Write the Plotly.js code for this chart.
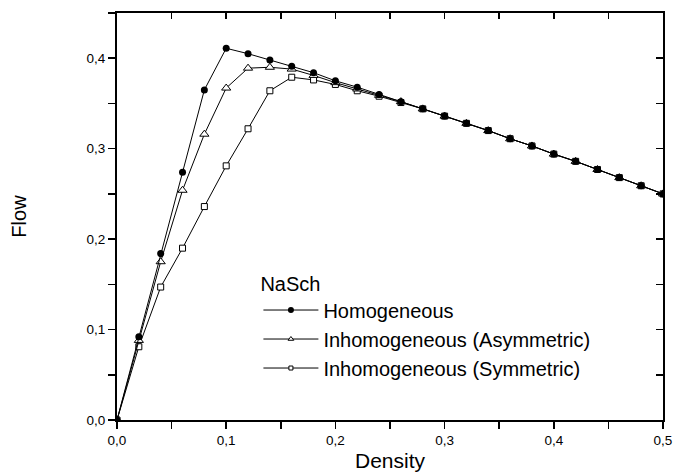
<!DOCTYPE html>
<html>
<head>
<meta charset="utf-8">
<script src="https://cdn.plot.ly/plotly-3.0.1.min.js"></script>
<style>html,body{margin:0;padding:0;background:#fff;}#chart{width:675px;height:474px;}</style>
</head>
<body>
<div id="chart"></div>
<script>
const density = [0,0.02,0.04,0.06,0.08,0.10,0.12,0.14,0.16,0.18,0.20,0.22,0.24,0.26,0.28,0.30,0.32,0.34,0.36,0.38,0.40,0.42,0.44,0.46,0.48,0.50];
const homogeneous = [0,0.092,0.184,0.274,0.365,0.411,0.405,0.398,0.391,0.384,0.375,0.368,0.360,0.352,0.344,0.336,0.328,0.320,0.311,0.303,0.294,0.286,0.277,0.268,0.259,0.250];
const asymmetric = [0,0.088,0.175,0.254,0.316,0.367,0.389,0.390,0.388,0.381,0.373,0.366,0.359,0.352,0.344,0.336,0.328,0.320,0.311,0.303,0.294,0.286,0.277,0.268,0.259,0.250];
const symmetric = [0,0.081,0.147,0.190,0.236,0.281,0.322,0.364,0.379,0.376,0.371,0.364,0.358,0.351,0.344,0.336,0.328,0.320,0.311,0.303,0.294,0.286,0.277,0.268,0.259,0.250];
const seriesNames = ["Homogeneous","Inhomogeneous (Asymmetric)","Inhomogeneous (Symmetric)"];

const FONT = "Liberation Sans, Arial, sans-serif";
const lineStyle = {color:"#000", width:1};

const traces = [
  {x:density, y:symmetric, mode:"lines+markers", showlegend:false, hoverinfo:"skip",
   line:lineStyle, marker:{symbol:"square", size:6, color:"#fff", line:{color:"#000", width:1}}},
  {x:density, y:asymmetric, mode:"lines+markers", showlegend:false, hoverinfo:"skip",
   line:lineStyle, marker:{symbol:"triangle-up", size:8, color:"#fff", line:{color:"#000", width:1}}},
  {x:density, y:homogeneous, mode:"lines+markers", showlegend:false, hoverinfo:"skip",
   line:lineStyle, marker:{symbol:"circle", size:7, color:"#000", line:{color:"#000", width:0}}},
  // legend entries
  {x:[null], y:[null], mode:"lines+markers", name:seriesNames[0],
   line:lineStyle, marker:{symbol:"circle", size:6, color:"#000"}},
  {x:[null], y:[null], mode:"lines+markers", name:seriesNames[1],
   line:lineStyle, marker:{symbol:"triangle-up", size:5, color:"#fff", line:{color:"#000", width:1}}},
  {x:[null], y:[null], mode:"lines+markers", name:seriesNames[2],
   line:lineStyle, marker:{symbol:"square", size:4, color:"#fff", line:{color:"#000", width:1}}},
  // dummy for mirrored axes
  {x:[null], y:[null], xaxis:"x2", yaxis:"y2", mode:"markers", showlegend:false, hoverinfo:"skip"}
];

const layout = {
  width:675, height:474,
  margin:{l:117, r:12, t:13, b:54},
  paper_bgcolor:"#fff", plot_bgcolor:"#fff",
  separators:",.",
  font:{family:FONT, color:"#000", size:13.5},
  showlegend:true,
  legend:{
    x:0.259, y:0.382, xanchor:"left", yanchor:"top",
    bgcolor:"rgba(0,0,0,0)", borderwidth:0,
    itemwidth:55,
    font:{family:FONT, size:20, color:"#000"},
    title:{text:"NaSch", font:{family:FONT, size:20, color:"#000"}, side:"top"},
    tracegroupgap:0
  },
  xaxis:{
    range:[0,0.5], dtick:0.1, tick0:0, tickformat:".1f",
    ticks:"outside", ticklen:7, tickwidth:1.5, tickcolor:"#000",
    minor:{dtick:0.05, ticks:"outside", ticklen:7, tickwidth:1.5, tickcolor:"#000"},
    showline:true, linecolor:"#000", linewidth:2, showgrid:false, zeroline:false,
    tickfont:{family:FONT, size:13.5, color:"#000"},
    title:{text:"Density", font:{family:FONT, size:21, color:"#000"}, standoff:6}
  },
  yaxis:{
    range:[0,0.45], dtick:0.1, tick0:0, tickformat:".1f",
    ticks:"outside", ticklen:7, tickwidth:1.5, tickcolor:"#000",
    minor:{dtick:0.05, ticks:"outside", ticklen:7, tickwidth:1.5, tickcolor:"#000"},
    showline:true, linecolor:"#000", linewidth:2, showgrid:false, zeroline:false,
    tickfont:{family:FONT, size:13.5, color:"#000"},
    title:{text:"Flow", font:{family:FONT, size:20, color:"#000"}, standoff:55}
  },
  xaxis2:{
    overlaying:"x", side:"top", anchor:"y2", range:[0,0.5], dtick:0.05,
    ticks:"inside", ticklen:6, tickwidth:1.5, tickcolor:"#000",
    showticklabels:false, showline:true, linecolor:"#000", linewidth:2,
    showgrid:false, zeroline:false
  },
  yaxis2:{
    overlaying:"y", side:"right", anchor:"x2", range:[0,0.45], dtick:0.05,
    ticks:"inside", ticklen:7, tickwidth:1.5, tickcolor:"#000",
    showticklabels:false, showline:true, linecolor:"#000", linewidth:2,
    showgrid:false, zeroline:false
  }
};

Plotly.newPlot("chart", traces, layout, {displayModeBar:false, staticPlot:true});
</script>
</body>
</html>
